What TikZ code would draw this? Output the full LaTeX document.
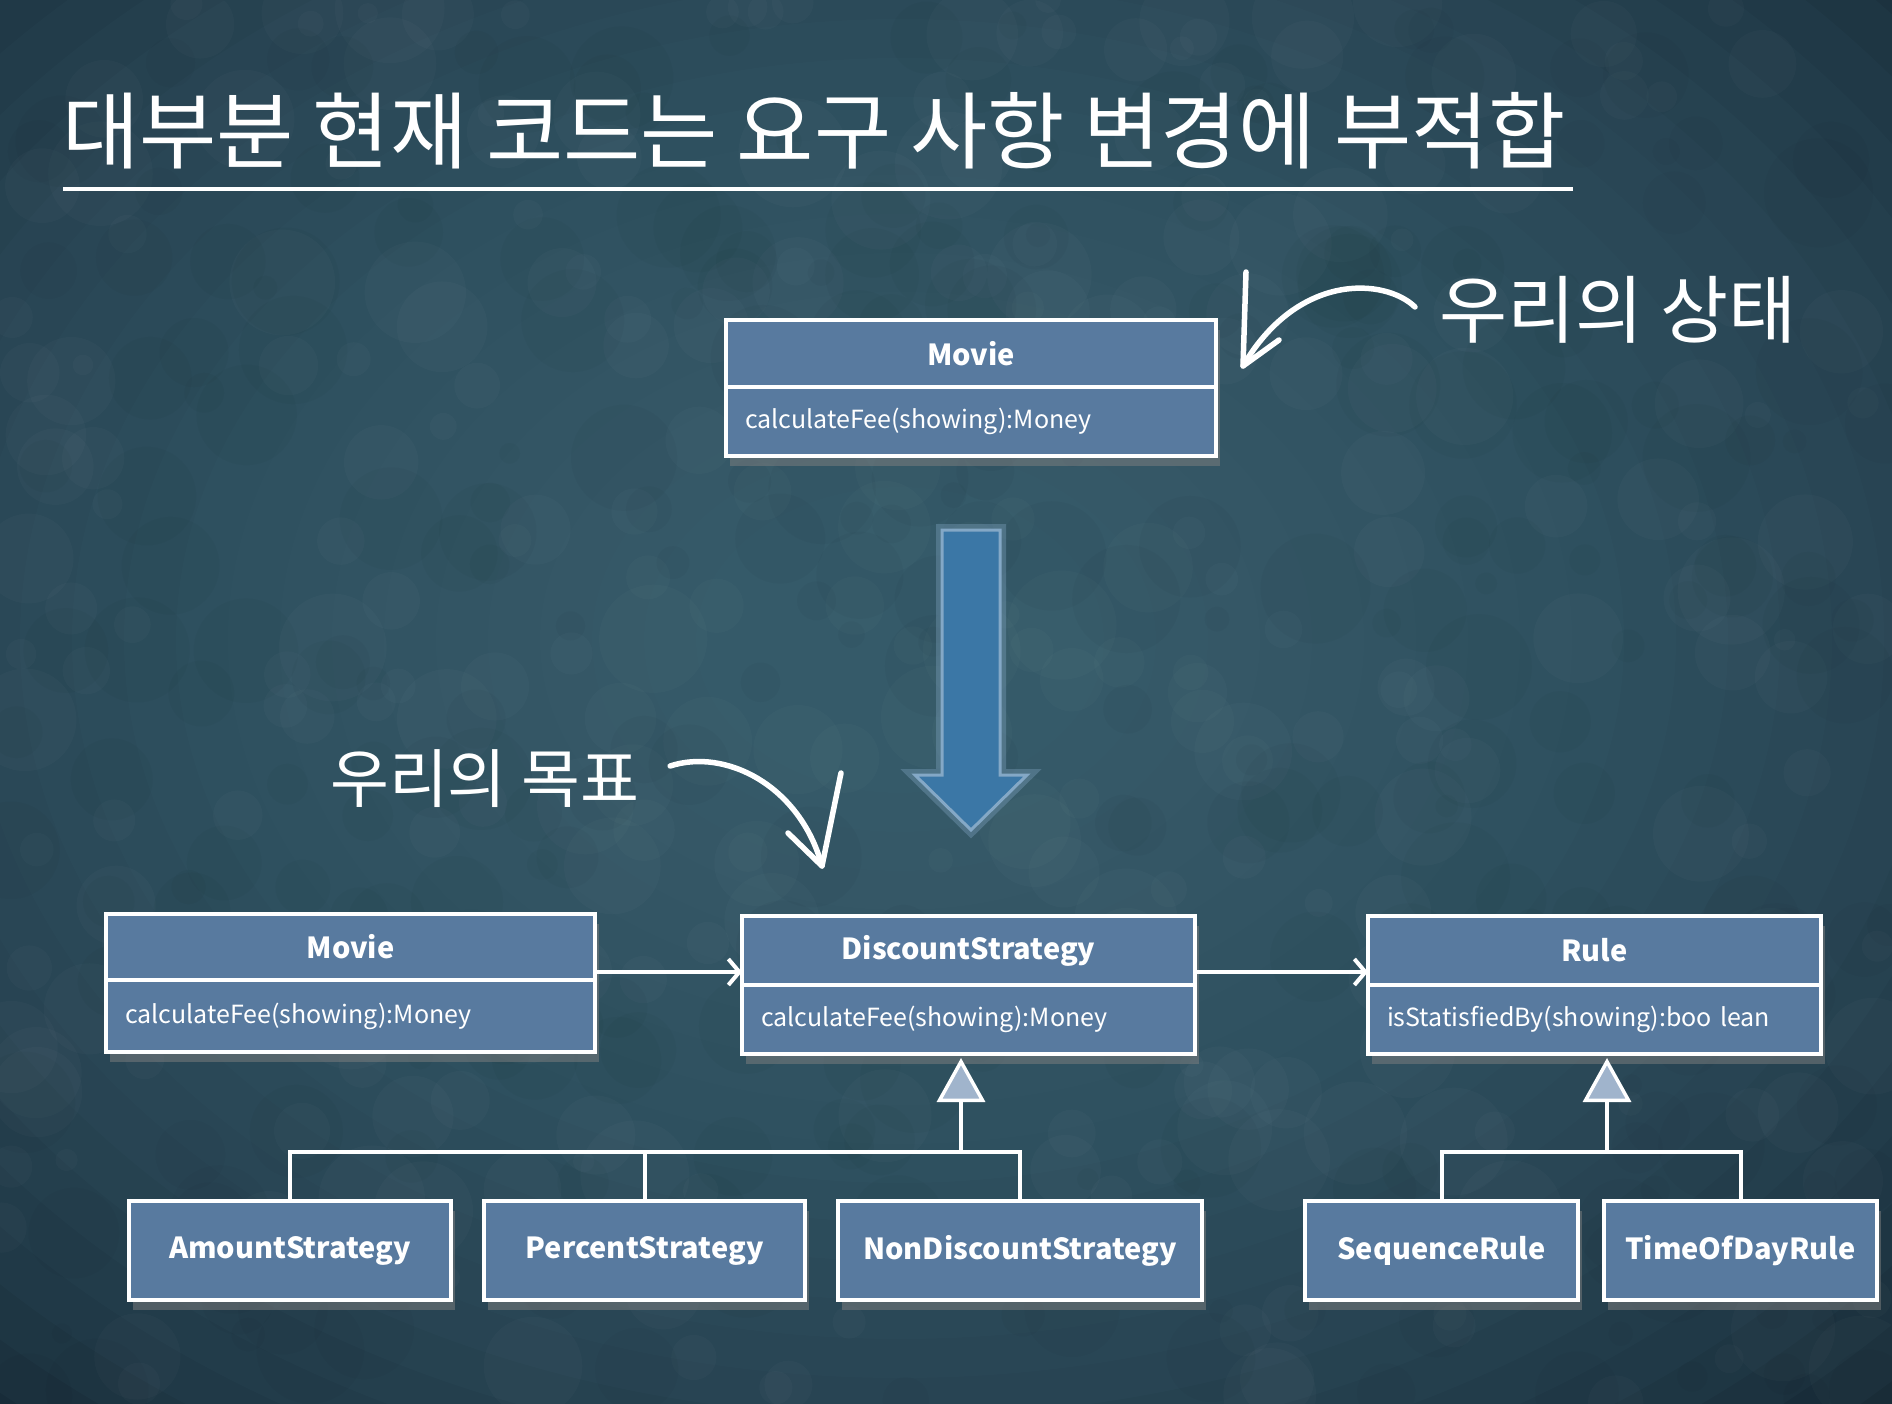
\documentclass[tikz,border=0pt]{standalone}
\usepackage{fontspec}
\usepackage{xcolor}
\usepackage{tikz}
\usetikzlibrary{
    arrows.meta,
    positioning,
    calc,
    shadows
}
\newfontfamily\hanfont{Noto Sans CJK KR}
\newfontfamily\umlfont{Noto Sans CJK KR}

\begin{document}
\begin{tikzpicture}[x=1pt,y=-1pt,
        cls/.style={draw=white,line width=4pt,fill=umlblue,text=white,
            inner sep=0pt,outer sep=0pt,
            drop shadow={shadow xshift=4pt,shadow yshift=-10pt,opacity=0.5}},
        clshead/.style={cls,font=\umlfont\bfseries\fontsize{29}{32}\selectfont},
        clsbody/.style={cls,font=\umlfont\fontsize{25}{28}\selectfont,
            align=left,inner xsep=19pt},
        sub/.style={cls,font=\umlfont\bfseries\fontsize{29}{32}\selectfont,
            minimum height=99pt},
        wire/.style={white,line width=4pt},
        assoc/.style={wire,-{Straight Barb[length=11pt,width=26pt,line width=4pt]}},
        gen/.style={wire,-{Triangle[length=44pt,width=48pt,fill=triblue,line width=3.5pt]}},
        chalk/.style={white,line width=5.5pt,line cap=round,line join=round},
        hand/.style={text=white,inner sep=0pt,anchor=west}
    ]
    \definecolor{boardmid}{HTML}{416878}
    \definecolor{boardedge}{HTML}{162A36}
    \definecolor{umlblue}{HTML}{587A9F}
    \definecolor{triblue}{HTML}{A0B4CC}
    \definecolor{bigblue}{HTML}{3B77A6}
    \definecolor{bigedge}{HTML}{84A8C6}

    % board
    \useasboundingbox (0,0) rectangle (1892,1404);
    \fill[boardedge] (0,0) rectangle (1892,1404);
    \foreach \k in {0,...,23}{
        \fill[boardmid,opacity=0.08] (900,640) ellipse ({1400-\k*52} and {1050-\k*39});
    }
    \pgfmathsetseed{11}
    \foreach \i in {1,...,300}{
        \pgfmathsetmacro\cx{rnd*1892}
        \pgfmathsetmacro\cy{rnd*1404}
        \pgfmathsetmacro\cr{10+rnd*45}
        \fill[white,opacity=0.018] (\cx,\cy) circle (\cr);
    }
    \foreach \i in {1,...,300}{
        \pgfmathsetmacro\cx{rnd*1892}
        \pgfmathsetmacro\cy{rnd*1404}
        \pgfmathsetmacro\cr{10+rnd*45}
        \fill[black,opacity=0.025] (\cx,\cy) circle (\cr);
    }

    % title
    \node[hand,font=\hanfont\fontsize{84}{92}\selectfont] (title) at (62,131)
        {대부분 현재 코드는 요구 사항 변경에 부적합};
    \draw[white,line width=4.5pt] (63,189) -- (1573,189);

    % current state
    \node[clshead,minimum width=490pt,minimum height=67pt] (movieA) at (971,353.5) {Movie};
    \node[clsbody,text width=452pt,minimum height=69pt,below=0pt of movieA] (movieAm)
        {calculateFee(showing):Money};

    \node[hand,font=\hanfont\fontsize{74}{82}\selectfont] (statelbl) at (1439,310) {우리의 상태};
    \coordinate (statetip) at (1243,366);
    \draw[chalk] ($(statelbl.west)+(-24,-3)$) .. controls (1385,278) and (1298,272) .. (statetip);
    \draw[chalk] (1246,272) -- (statetip) -- (1279,340);

    % refactoring arrow
    \draw[bigedge,line width=12pt,opacity=0.35,line join=miter]
        (942,530) -- (1000,530) -- (1000,775) -- (1027,775) -- (971,830)
        -- (915,775) -- (942,775) -- cycle;
    \fill[bigblue] (942,530) -- (1000,530) -- (1000,775) -- (1027,775) -- (971,830)
        -- (915,775) -- (942,775) -- cycle;
    \draw[bigedge,line width=3pt] (942,530) -- (1000,530) -- (1000,775) -- (1027,775)
        -- (971,830) -- (915,775) -- (942,775) -- cycle;

    % goal
    \node[hand,font=\hanfont\fontsize{64}{70}\selectfont] (goallbl) at (330,779) {우리의 목표};
    \coordinate (goaltip) at (822,866);
    \draw[chalk] ($(goallbl.east)+(31,-13)$) .. controls (725,748) and (800,785) .. (goaltip);
    \draw[chalk] (841,773) -- (goaltip) -- (788,833);

    \node[clshead,minimum width=489pt,minimum height=66pt] (movieB) at (350.5,947) {Movie};
    \node[clsbody,text width=451pt,minimum height=72pt,below=0pt of movieB] (movieBm)
        {calculateFee(showing):Money};

    \node[clshead,minimum width=453pt,minimum height=69pt] (strat) at (968.5,950.5) {DiscountStrategy};
    \node[clsbody,text width=415pt,minimum height=69pt,below=0pt of strat] (stratm)
        {calculateFee(showing):Money};

    \node[clshead,minimum width=453pt,minimum height=69pt] (rule) at (1594.5,950.5) {Rule};
    \node[clsbody,text width=415pt,minimum height=69pt,below=0pt of rule] (rulem)
        {isStatisfiedBy(showing):boo lean};

    \node[sub,minimum width=322pt] (amount) at (290,1250.5) {AmountStrategy};
    \node[sub,minimum width=321pt] (percent) at (644.5,1250.5) {PercentStrategy};
    \node[sub,minimum width=364pt] (nondisc) at (1020,1250.5) {NonDiscountStrategy};
    \node[sub,minimum width=273pt] (seqrule) at (1441.5,1250.5) {SequenceRule};
    \node[sub,minimum width=273pt] (timerule) at (1740.5,1250.5) {TimeOfDayRule};

    % associations
    \coordinate (assocA) at ($(movieB.east)+(2,25)$);
    \draw[assoc] (assocA) -- (assocA -| strat.west);
    \coordinate (assocB) at ($(strat.east)+(2,21.5)$);
    \draw[assoc] (assocB) -- (assocB -| rule.west);

    % generalizations
    \coordinate (sjoin) at (961,1152);
    \draw[wire] (amount.north) |- (sjoin) -| (nondisc.north);
    \draw[wire] (percent.north) -- (percent.north |- sjoin);
    \draw[gen] (sjoin) -- ($(sjoin |- stratm.south)+(0,4)$);

    \coordinate (rjoin) at (1607,1152);
    \draw[wire] (seqrule.north) |- (rjoin) -| (timerule.north);
    \draw[gen] (rjoin) -- ($(rjoin |- rulem.south)+(0,4)$);
\end{tikzpicture}
\end{document}
